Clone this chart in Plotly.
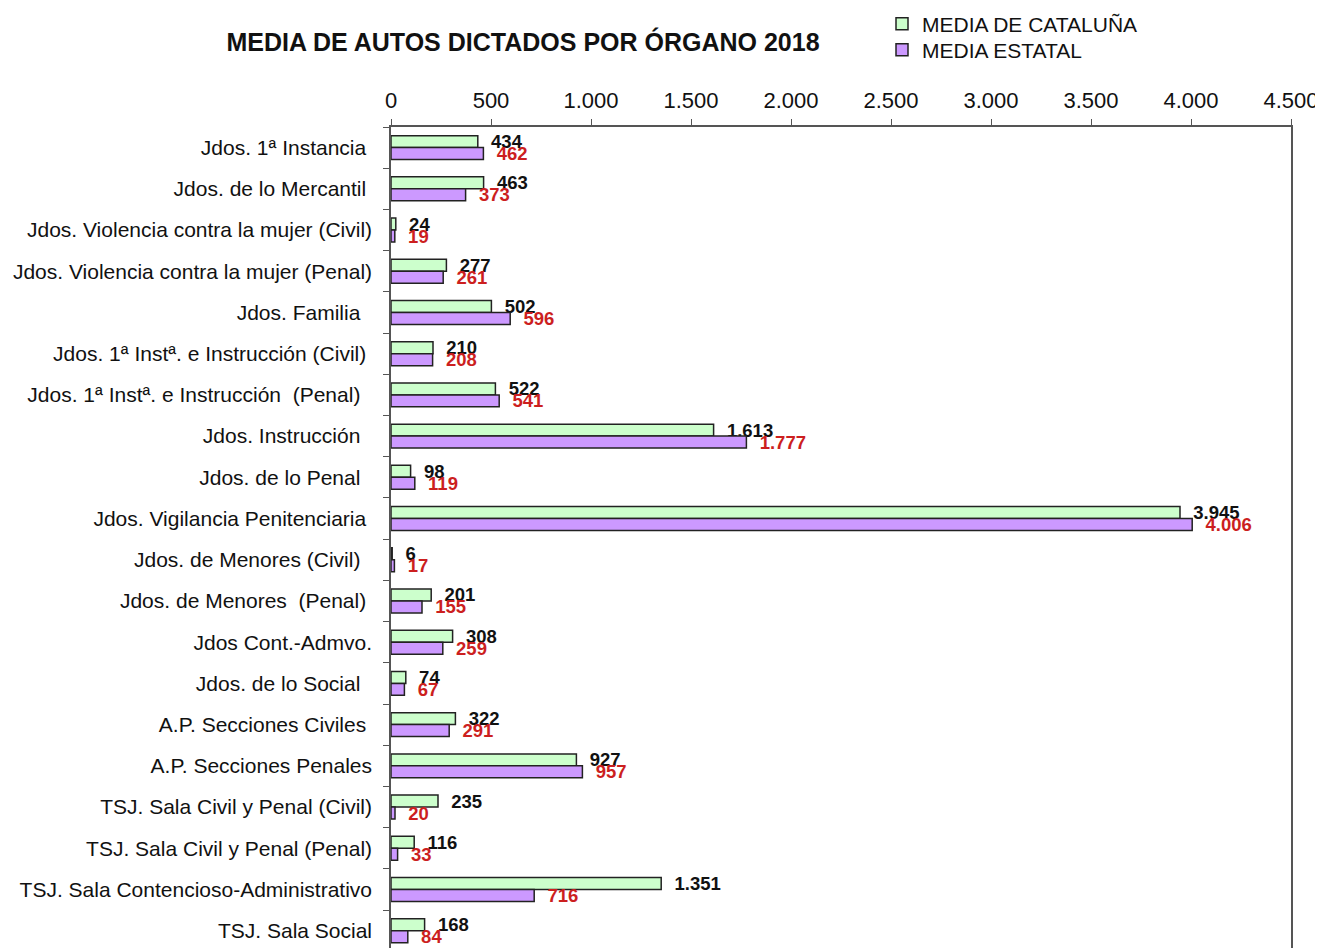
import plotly.graph_objects as go

NB = "\u00a0"
categories = [
    "Jdos. 1ª Instancia" + NB,
    "Jdos. de lo Mercantil" + NB,
    "Jdos. Violencia contra la mujer (Civil)",
    "Jdos. Violencia contra la mujer (Penal)",
    "Jdos. Familia" + NB + NB,
    "Jdos. 1ª Instª. e Instrucción (Civil)" + NB,
    "Jdos. 1ª Instª. e Instrucción " + NB + "(Penal)" + NB + NB,
    "Jdos. Instrucción" + NB + NB,
    "Jdos. de lo Penal" + NB + NB,
    "Jdos. Vigilancia Penitenciaria" + NB,
    "Jdos. de Menores (Civil)" + NB + NB,
    "Jdos. de Menores " + NB + "(Penal)" + NB,
    "Jdos Cont.-Admvo.",
    "Jdos. de lo Social" + NB + NB,
    "A.P. Secciones Civiles" + NB,
    "A.P. Secciones Penales",
    "TSJ. Sala Civil y Penal (Civil)",
    "TSJ. Sala Civil y Penal (Penal)",
    "TSJ. Sala Contencioso-Administrativo",
    "TSJ. Sala Social",
]
media_cataluna = [434, 463, 24, 277, 502, 210, 522, 1613, 98, 3945,
                  6, 201, 308, 74, 322, 927, 235, 116, 1351, 168]
media_estatal = [462, 373, 19, 261, 596, 208, 541, 1777, 119, 4006,
                 17, 155, 259, 67, 291, 957, 20, 33, 716, 84]
series_names = ["MEDIA DE CATALUÑA", "MEDIA ESTATAL"]
title_text = "MEDIA DE AUTOS DICTADOS POR ÓRGANO 2018"

FONT = "Liberation Sans, Arial, sans-serif"
W, H = 1315, 940  # page body has an 8px margin

fig = go.Figure()
fig.add_trace(go.Bar(
    y=categories, x=media_cataluna, orientation="h", name=series_names[0],
    marker=dict(color="#ccffcc", line=dict(color="#222222", width=1.5)),
    texttemplate=NB + NB + "%{x:,.0f}", textposition="outside",
    textfont=dict(family=FONT, size=18.5, color="#111111", weight="bold"),
    constraintext="none", cliponaxis=False, legend="legend",
))
fig.add_trace(go.Bar(
    y=categories, x=media_estatal, orientation="h", name=series_names[1],
    marker=dict(color="#cc99ff", line=dict(color="#222222", width=1.5)),
    texttemplate=NB + NB + "%{x:,.0f}", textposition="outside",
    textfont=dict(family=FONT, size=18.5, color="#cc1f1f", weight="bold"),
    constraintext="none", cliponaxis=False, legend="legend2",
))

legend_common = dict(xref="container", yref="container", x=(876 - 8 + 6) / W,
                     xanchor="left", yanchor="middle",
                     font=dict(family=FONT, size=21, color="#111111"),
                     itemwidth=30, bgcolor="rgba(0,0,0,0)")

fig.update_layout(
    width=W, height=H,
    margin=dict(l=383, r=32, t=119, b=0, autoexpand=False),
    paper_bgcolor="white", plot_bgcolor="white",
    separators=",.",
    barmode="group", bargap=0.42, bargroupgap=0,
    font=dict(family=FONT, color="#111111"),
    title=dict(text="<b>" + title_text + "</b>", xref="container", x=(523 - 8) / W,
               xanchor="center", yref="container", y=1 - 34 / H, yanchor="middle",
               font=dict(family=FONT, size=25, color="#111111")),
    showlegend=True,
    legend=dict(legend_common, y=1 - (24 - 8) / H),
    legend2=dict(legend_common, y=1 - (50 - 8) / H),
    xaxis=dict(side="top", range=[0, 4500], dtick=500, tick0=0, tickformat=",d",
               showgrid=False, zeroline=False, showline=True, linecolor="#555555",
               linewidth=1.5, ticks="outside", ticklen=6, tickcolor="#555555",
               tickangle=0, ticklabelstandoff=2,
               tickfont=dict(family=FONT, size=22, color="#111111")),
    yaxis=dict(type="category", range=[19.42, -0.5], showgrid=False, zeroline=False,
               showline=True, mirror=True, linecolor="#555555", linewidth=1.5,
               ticks="outside", ticklen=6, tickcolor="#555555", tickson="boundaries",
               ticklabelstandoff=13,
               tickfont=dict(family=FONT, size=21, color="#111111")),
)

fig.write_html("out.html")
